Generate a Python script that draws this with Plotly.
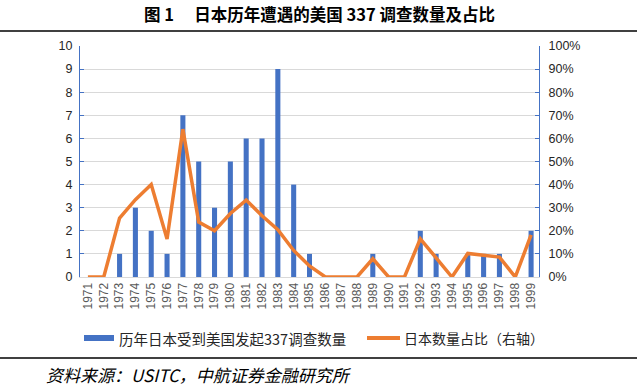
import plotly.graph_objects as go

years = ["1971", "1972", "1973", "1974", "1975", "1976", "1977", "1978", "1979", "1980",
         "1981", "1982", "1983", "1984", "1985", "1986", "1987", "1988", "1989", "1990",
         "1991", "1992", "1993", "1994", "1995", "1996", "1997", "1998", "1999"]
counts = [0, 0, 1, 3, 2, 1, 7, 5, 3, 5,
          6, 6, 9, 4, 1, 0, 0, 0, 1, 0,
          0, 2, 1, 0, 1, 1, 1, 0, 2]
share_pct = [0, 0, 25.5, 33.5, 40, 16.5, 64, 23.8, 20, 27.5,
             33.3, 26.5, 20.5, 11.5, 4.8, 0, 0, 0, 7.9, 0,
             0, 16.5, 8.3, 0, 10.2, 9.3, 8.6, 0, 18.2]

bar_name = "历年日本受到美国发起337调查数量"
line_name = "日本数量占比（右轴）"
title_text = "图 1\u3000 日本历年遭遇的美国 337 调查数量及占比"
source_text = "资料来源：USITC，中航证券金融研究所"

BLUE = "#4472C4"
ORANGE = "#ED7D31"
W, H = 637, 387
L, R, T, B = 80, 98, 46, 110
PW, PH = W - L - R, H - T - B


def px(x):
    return (x - L) / PW


def py(y):
    return (H - B - y) / PH


fig = go.Figure()
fig.add_trace(go.Bar(x=years, y=counts, name=bar_name, marker_color=BLUE,
                     marker_line_width=0, yaxis="y", showlegend=False))
fig.add_trace(go.Scatter(x=years, y=share_pct, name=line_name, mode="lines",
                         line=dict(color=ORANGE, width=3.5), yaxis="y2",
                         showlegend=False))

tick_font = dict(family="Liberation Sans, Arial, sans-serif", size=12.5, color="#262626")

fig.update_layout(
    width=W, height=H,
    margin=dict(l=L, r=R, t=T, b=B),
    plot_bgcolor="white", paper_bgcolor="white",
    bargap=0.68,
    xaxis=dict(type="category", tickangle=-90, showgrid=False,
               showline=True, linecolor="#D9D9D9", linewidth=1,
               ticks="", tickfont=dict(family="Liberation Sans, Arial, sans-serif",
                                        size=12, color="#595959")),
    yaxis=dict(range=[0, 10], dtick=1, showgrid=True, gridcolor="#D9D9D9", gridwidth=1,
               showline=True, linecolor=BLUE, linewidth=1, ticks="inside",
               ticklen=4, tickcolor=BLUE, tickfont=tick_font, zeroline=False,
               ticklabelstandoff=4),
    yaxis2=dict(range=[0, 100], dtick=10, ticksuffix="%", overlaying="y", side="right",
                showgrid=False, showline=True, linecolor=BLUE, linewidth=1,
                ticks="inside", ticklen=4, tickcolor=BLUE, tickfont=tick_font,
                zeroline=False, ticklabelstandoff=6),
    showlegend=False,
)

shapes = [
    dict(type="line", xref="paper", yref="paper", x0=px(0), x1=px(W), y0=py(31), y1=py(31),
         line=dict(color="black", width=1.5)),
    dict(type="line", xref="paper", yref="paper", x0=px(0), x1=px(W), y0=py(358), y1=py(358),
         line=dict(color="black", width=1.5)),
    dict(type="rect", xref="paper", yref="paper", x0=px(84), x1=px(114), y0=py(341), y1=py(335),
         fillcolor=BLUE, line=dict(width=0)),
    dict(type="line", xref="paper", yref="paper", x0=px(367), x1=px(400), y0=py(338), y1=py(338),
         line=dict(color=ORANGE, width=4)),
]
fig.update_layout(shapes=shapes)

cjk = "Noto Sans CJK SC, sans-serif"
fig.add_annotation(text="<b>" + title_text + "</b>", xref="paper", yref="paper",
                   x=px(319), y=py(14), xanchor="center", yanchor="middle", showarrow=False,
                   font=dict(family=cjk, size=16.5, color="black"))
fig.add_annotation(text=bar_name, xref="paper", yref="paper", x=px(117), y=py(338),
                   xanchor="left", yanchor="middle", showarrow=False,
                   font=dict(family=cjk, size=14.5, color="#262626"))
fig.add_annotation(text=line_name, xref="paper", yref="paper", x=px(402), y=py(338),
                   xanchor="left", yanchor="middle", showarrow=False,
                   font=dict(family=cjk, size=14, color="#262626"))
fig.add_annotation(text="<i>" + source_text + "</i>", xref="paper", yref="paper",
                   x=px(44), y=py(374), xanchor="left", yanchor="middle", showarrow=False,
                   font=dict(family=cjk, size=17, color="black"))

fig.write_html("out.html", config={"displayModeBar": False},
               post_script="document.body.style.margin='0';document.body.style.overflow='hidden';")
